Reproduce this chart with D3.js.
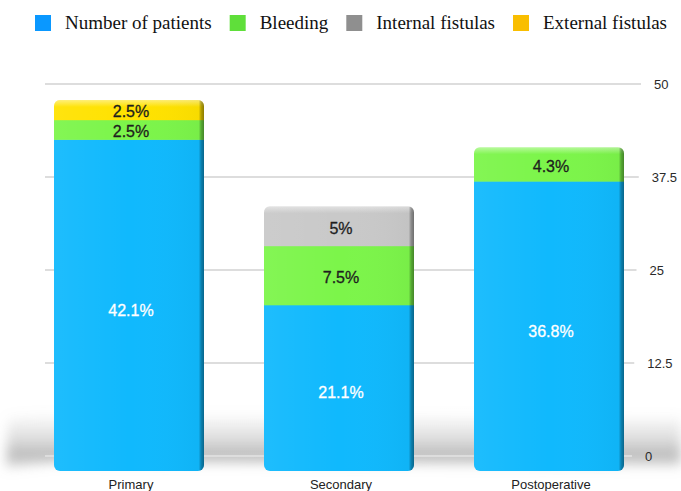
<!DOCTYPE html>
<html>
<head>
<meta charset="utf-8">
<script src="https://cdn.jsdelivr.net/npm/d3@7/dist/d3.min.js"></script>
<style>
  html, body { margin: 0; padding: 0; background: #ffffff; }
  svg { display: block; }
</style>
</head>
<body>
<div id="chart"></div>
<script>
// Complications by type of procedure, stacked
const categories = ["Primary", "Secondary", "Postoperative"];
const seriesNames = ["Number of patients", "Bleeding", "Internal fistulas", "External fistulas"];
const patients = [42.1, 21.1, 36.8];
const bleeding = [2.5, 7.5, 4.3];
const internalFistulas = [0, 5, 0];
const externalFistulas = [2.5, 0, 0];
const yTicks = [0, 12.5, 25, 37.5, 50];
const yTickLabels = ["0", "12.5", "25", "37.5", "50"];

const barColors = ["#10B9FD", "#7CF54A", "#C9C9C9", "#FFE200"];
const legendColors = ["#0A98FF", "#5FDF3A", "#8F8F8F", "#F9BE00"];
const labelColors = ["#ffffff", "#1e1e1e", "#1e1e1e", "#1e1e1e"];

const W = 681, H = 491;
const svg = d3.select("#chart").append("svg").attr("width", W).attr("height", H);
const defs = svg.append("defs");

// rows for the stack layout
const keys = ["p", "b", "i", "e"];
const rows = categories.map((c, k) => ({
  cat: c, p: patients[k], b: bleeding[k], i: internalFistulas[k], e: externalFistulas[k]
}));
const stacked = d3.stack().keys(keys)(rows);
const totals = rows.map(r => r.p + r.b + r.i + r.e);

// axis plane (back) and bar plane (front, slightly larger)
const yAxis = d3.scaleLinear().domain([0, 50]).range([456, 84]);
const yBar = d3.scaleLinear().domain([0, 50]).range([471, 471 - 50 * 7.877]);
const gridEnd = d3.scaleLinear().domain([0, 50]).range([632, 641]);
const x = d3.scaleBand().domain(categories).range([54, 624]).paddingInner(0.2857).paddingOuter(0);

// soft floor shadow, darkening toward the floor line
const blur = defs.append("filter").attr("id", "soft").attr("x", "-20%").attr("y", "-80%")
  .attr("width", "140%").attr("height", "260%");
blur.append("feGaussianBlur").attr("stdDeviation", 6);
const shade = defs.append("linearGradient").attr("id", "shade")
  .attr("gradientUnits", "userSpaceOnUse").attr("x1", 0).attr("x2", 0).attr("y1", 412).attr("y2", 464);
shade.append("stop").attr("offset", "0").attr("stop-color", "#9a9a9a").attr("stop-opacity", 0);
shade.append("stop").attr("offset", "0.55").attr("stop-color", "#9a9a9a").attr("stop-opacity", 0.35);
shade.append("stop").attr("offset", "0.85").attr("stop-color", "#9a9a9a").attr("stop-opacity", 0.7);
shade.append("stop").attr("offset", "1").attr("stop-color", "#9a9a9a").attr("stop-opacity", 0.35);
svg.append("path")
  .attr("d", "M6,468 L8,418 L50,414 L681,418 L681,466 L60,462 Z")
  .attr("fill", "url(#shade)").attr("filter", "url(#soft)");

// gridlines and right-hand tick labels
const grid = svg.append("g");
grid.selectAll("line").data(yTicks).join("line")
  .attr("x1", 45).attr("x2", d => gridEnd(d))
  .attr("y1", d => yAxis(d)).attr("y2", d => yAxis(d))
  .attr("stroke", "#dddddd").attr("stroke-width", 2);
grid.selectAll("text").data(yTicks).join("text")
  .attr("x", d => gridEnd(d) + 13).attr("y", d => yAxis(d))
  .attr("dominant-baseline", "central")
  .attr("font-family", "'Liberation Sans', Arial, sans-serif").attr("font-size", 13)
  .attr("fill", "#2a2a2a").text((d, i) => yTickLabels[i]);

// gradients for the bar shading
const side = defs.append("linearGradient").attr("id", "side").attr("x1", 0).attr("x2", 1).attr("y1", 0).attr("y2", 0);
side.append("stop").attr("offset", "0").attr("stop-color", "#fff").attr("stop-opacity", 0.06);
side.append("stop").attr("offset", "0.5").attr("stop-color", "#fff").attr("stop-opacity", 0);
side.append("stop").attr("offset", "0.965").attr("stop-color", "#000").attr("stop-opacity", 0.03);
side.append("stop").attr("offset", "0.98").attr("stop-color", "#000").attr("stop-opacity", 0.3);
side.append("stop").attr("offset", "1").attr("stop-color", "#000").attr("stop-opacity", 0.45);
const topGloss = defs.append("linearGradient").attr("id", "gloss").attr("x1", 0).attr("x2", 0).attr("y1", 0).attr("y2", 1);
topGloss.append("stop").attr("offset", "0").attr("stop-color", "#fff").attr("stop-opacity", 0.45);
topGloss.append("stop").attr("offset", "1").attr("stop-color", "#fff").attr("stop-opacity", 0);

// bars
const bars = svg.append("g");
categories.forEach((c, k) => {
  const x0 = x(c), bw = x.bandwidth();
  const top = yBar(totals[k]), bottom = yBar(0);
  defs.append("clipPath").attr("id", "clip" + k)
    .append("rect").attr("x", x0).attr("y", top).attr("width", bw).attr("height", bottom - top)
    .attr("rx", 6).attr("ry", 6);
  const g = bars.append("g").attr("clip-path", `url(#clip${k})`);
  stacked.forEach((layer, s) => {
    const d = layer[k];
    if (d[1] - d[0] <= 0) return;
    g.append("rect").attr("x", x0).attr("width", bw)
      .attr("y", yBar(d[1])).attr("height", yBar(d[0]) - yBar(d[1]) + 0.5)
      .attr("fill", barColors[s]);
  });
  g.append("rect").attr("x", x0).attr("y", top).attr("width", bw).attr("height", 7).attr("fill", "url(#gloss)");
  g.append("rect").attr("x", x0).attr("y", top).attr("width", bw).attr("height", bottom - top).attr("fill", "url(#side)");
});

// segment value labels
const labels = svg.append("g").attr("font-family", "'Liberation Sans', Arial, sans-serif")
  .attr("font-size", 16).attr("text-anchor", "middle");
stacked.forEach((layer, s) => {
  layer.forEach((d, k) => {
    const v = d[1] - d[0];
    if (v <= 0) return;
    const mid = (yBar(d[0]) + yBar(d[1])) / 2;
    labels.append("text")
      .attr("x", x(categories[k]) + x.bandwidth() / 2 + 2)
      .attr("y", mid + (s === 0 ? 5 : 2))
      .attr("dominant-baseline", "central")
      .attr("fill", labelColors[s])
      .attr("stroke", labelColors[s]).attr("stroke-width", 0.3)
      .text(d3.format("~g")(v) + "%");
  });
});

// category labels
svg.append("g").selectAll("text").data(categories).join("text")
  .attr("x", d => x(d) + x.bandwidth() / 2 + 2).attr("y", 489)
  .attr("text-anchor", "middle")
  .attr("font-family", "'Liberation Sans', Arial, sans-serif").attr("font-size", 13)
  .attr("fill", "#222").text(d => d);

// legend
const legend = svg.append("g");
let lx = 35;
seriesNames.forEach((name, s) => {
  legend.append("rect").attr("x", lx).attr("y", 15).attr("width", 16).attr("height", 16)
    .attr("fill", legendColors[s]);
  const t = legend.append("text").attr("x", lx + 30).attr("y", 29)
    .attr("font-family", "'Liberation Serif', 'Times New Roman', serif").attr("font-size", 19)
    .attr("fill", "#111").text(name);
  lx += 30 + t.node().getComputedTextLength() + 18;
});
</script>
</body>
</html>
